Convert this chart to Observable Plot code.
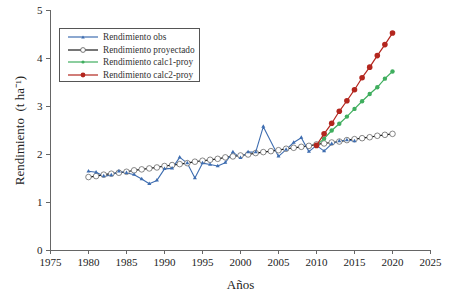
<!DOCTYPE html>
<html><head><meta charset="utf-8">
<script src="https://cdn.jsdelivr.net/npm/d3@7"></script>
<script src="https://cdn.jsdelivr.net/npm/@observablehq/plot@0.6"></script>
<style>
body{margin:0;background:#fff;}
#wrap{position:relative;width:450px;height:296px;font-family:"Liberation Serif","Times New Roman",serif;}
#legend{position:absolute;left:59px;top:28px;width:141px;height:54px;border:1px solid #555;background:#fff;box-sizing:border-box;padding-top:2px;}
.row{display:flex;align-items:center;height:12.6px;font-size:9.3px;color:#333;white-space:nowrap;}
.row svg{margin-left:8px;margin-right:5px;}
</style></head>
<body><div id="wrap"></div>
<script>
// Observed yield
const obsYears = [1980,1981,1982,1983,1984,1985,1986,1987,1988,1989,1990,1991,1992,1993,1994,1995,1996,1997,1998,1999,2000,2001,2002,2003,2005,2006,2007,2008,2009,2010,2011,2012,2013,2014,2015];
const obsValues = [1.65,1.63,1.55,1.57,1.65,1.62,1.58,1.49,1.39,1.46,1.70,1.71,1.94,1.82,1.51,1.82,1.79,1.76,1.83,2.05,1.93,2.05,2.05,2.58,1.96,2.10,2.25,2.35,2.06,2.19,2.07,2.22,2.28,2.30,2.28];
// Projected yield
const projYears = [1980,1981,1982,1983,1984,1985,1986,1987,1988,1989,1990,1991,1992,1993,1994,1995,1996,1997,1998,1999,2000,2001,2002,2003,2004,2005,2006,2007,2008,2009,2010,2011,2012,2013,2014,2015,2016,2017,2018,2019,2020];
const projValues = [1.53,1.55,1.58,1.60,1.62,1.64,1.67,1.69,1.71,1.73,1.76,1.78,1.80,1.82,1.85,1.87,1.89,1.91,1.94,1.96,1.98,2.00,2.03,2.05,2.07,2.09,2.12,2.14,2.16,2.18,2.21,2.23,2.25,2.27,2.30,2.32,2.34,2.36,2.39,2.41,2.43];
// Calculated projections
const calcYears = [2010,2011,2012,2013,2014,2015,2016,2017,2018,2019,2020];
const calc1Values = [2.19,2.33,2.50,2.64,2.79,2.95,3.11,3.26,3.40,3.58,3.73];
const calc2Values = [2.19,2.43,2.65,2.90,3.12,3.35,3.60,3.82,4.06,4.29,4.53];
// Ticks
const xTicks = [1975,1980,1985,1990,1995,2000,2005,2010,2015,2020,2025];
const yTicks = [0,1,2,3,4,5];
const seriesNames = ["Rendimiento obs","Rendimiento proyectado","Rendimiento calc1-proy","Rendimiento calc2-proy"];

const cBlue = "#3e6db0", cBlack = "#1a1a1a", cGreen = "#3fae5e", cRed = "#b3261e";

const obs = obsYears.map((x,i)=>({x, y: obsValues[i]}));
const proj = projYears.map((x,i)=>({x, y: projValues[i]}));
const c1 = calcYears.map((x,i)=>({x, y: calc1Values[i]}));
const c2 = calcYears.map((x,i)=>({x, y: calc2Values[i]}));

const chart = Plot.plot({
  width: 450, height: 296,
  marginLeft: 50, marginRight: 20, marginTop: 10, marginBottom: 46,
  style: {fontFamily: '"Liberation Serif","Times New Roman",serif', color: "#222", background: "#fff"},
  x: {domain: [1975, 2025]},
  y: {domain: [0, 5]},
  marks: [
    Plot.axisX({ticks: xTicks, tickSize: 4, tickFormat: d => String(d), fontSize: 11, tickPadding: 4, label: null, stroke: "#666"}),
    Plot.axisX({ticks: [], label: "Años", fontSize: 13, labelAnchor: "center", labelOffset: 38, labelArrow: "none"}),
    Plot.axisY({ticks: yTicks, tickSize: 4, tickFormat: d => String(d), fontSize: 11, tickPadding: 4, label: null, stroke: "#666"}),
    Plot.axisY({ticks: [], label: "Rendimiento  (t ha⁻¹)", fontSize: 13, labelAnchor: "center", labelOffset: 36, labelArrow: "none"}),
    Plot.ruleY([0], {stroke: "#666"}),
    Plot.ruleX([1975], {stroke: "#666"}),
    Plot.line(proj, {x: "x", y: "y", stroke: cBlack, strokeWidth: 1.2}),
    Plot.line(obs, {x: "x", y: "y", stroke: cBlue, strokeWidth: 1.1}),
    Plot.dot(proj, {x: "x", y: "y", r: 2.8, fill: "#fff", stroke: "#555", strokeWidth: 0.7}),
    Plot.dot(obs, {x: "x", y: "y", symbol: "triangle", r: 1.5, fill: cBlue}),
    Plot.line(c1, {x: "x", y: "y", stroke: cGreen, strokeWidth: 1.2}),
    Plot.dot(c1, {x: "x", y: "y", r: 2.2, fill: cGreen}),
    Plot.line(c2, {x: "x", y: "y", stroke: cRed, strokeWidth: 1.2}),
    Plot.dot(c2, {x: "x", y: "y", r: 2.8, fill: cRed})
  ]
});
const wrap = document.getElementById("wrap");
wrap.appendChild(chart);

// Legend
const legendSpec = [
  {name: seriesNames[0], line: cBlue, m: "tri", mc: cBlue},
  {name: seriesNames[1], line: cBlack, m: "open", mc: "#555"},
  {name: seriesNames[2], line: cGreen, m: "dot", mc: cGreen, r: 1.6},
  {name: seriesNames[3], line: cRed, m: "dot", mc: cRed, r: 2.4}
];
const lg = document.createElement("div");
lg.id = "legend";
for (const s of legendSpec) {
  let marker;
  if (s.m === "tri") marker = `<path d="M15,4.5 L16.8,7.6 L13.2,7.6 Z" fill="${s.mc}"/>`;
  else if (s.m === "open") marker = `<circle cx="15" cy="6" r="2.4" fill="#fff" stroke="${s.mc}" stroke-width="0.8"/>`;
  else marker = `<circle cx="15" cy="6" r="${s.r}" fill="${s.mc}"/>`;
  const row = document.createElement("div");
  row.className = "row";
  row.innerHTML = `<svg width="30" height="12"><line x1="0" y1="6" x2="30" y2="6" stroke="${s.line}" stroke-width="1.2"/>${marker}</svg><span>${s.name}</span>`;
  lg.appendChild(row);
}
wrap.appendChild(lg);
</script>
</body></html>
